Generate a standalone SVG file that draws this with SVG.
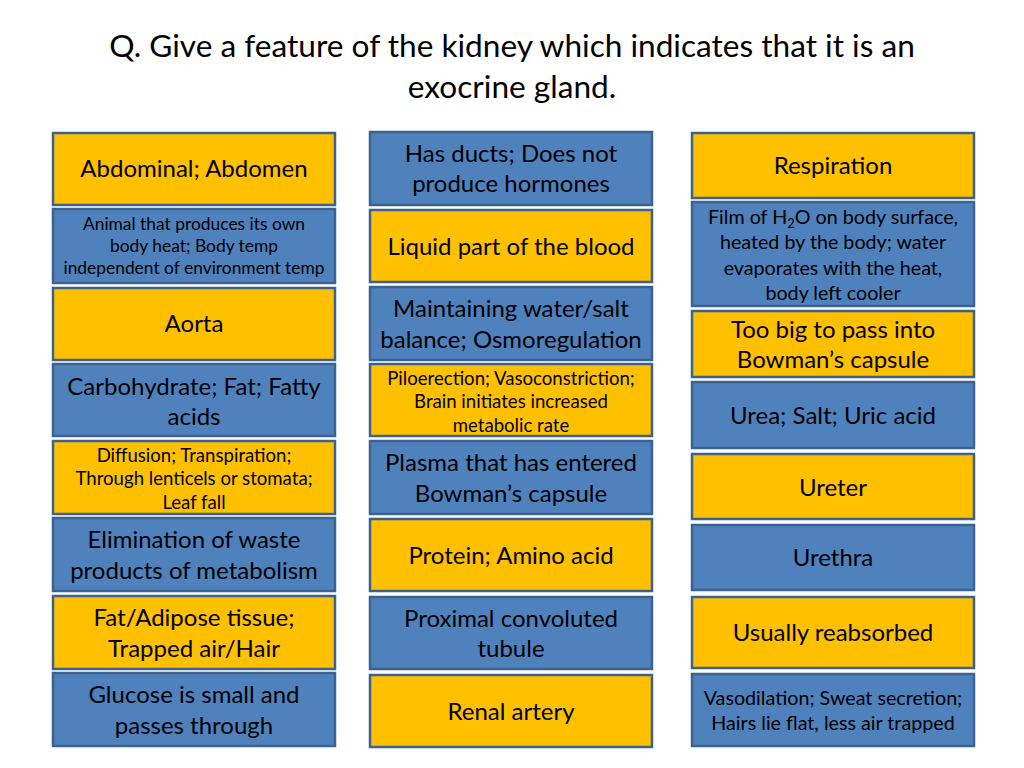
<svg xmlns="http://www.w3.org/2000/svg" width="1024" height="768" viewBox="0 0 1024 768">
<style>
text{font-family:Lato,"Open Sans","Liberation Sans",sans-serif;fill:#000;text-anchor:middle}
.t{font-size:31.6px}
.L{font-size:24px}
.S{font-size:17.4px}
.M{font-size:18.6px}
.X{font-size:19.7px}
.g{fill:#FFC000;stroke:#3C628F;stroke-width:2.5}
.b{fill:#4F81BD;stroke:#3C628F;stroke-width:2.5}
</style>
<rect width="1024" height="768" fill="#fff"/>
<g id="title">
<text class="t" x="512" y="57">Q. Give a feature of the kidney which indicates that it is an</text>
<text class="t" x="512" y="98">exocrine gland.</text>
</g>
<g id="connectors"/>
<!-- column 1 -->
<g id="n1"><rect class="g" x="53" y="133" width="282" height="72"/><text class="L" x="194" y="177">Abdominal; Abdomen</text></g>
<g id="n2"><rect class="b" x="53" y="209" width="282" height="74"/><text class="S" x="194" y="230">Animal that produces its own</text><text class="S" x="194" y="252">body heat; Body temp</text><text class="S" x="194" y="274">independent of environment temp</text></g>
<g id="n3"><rect class="g" x="53" y="288" width="282" height="72"/><text class="L" x="194" y="332">Aorta</text></g>
<g id="n4"><rect class="b" x="53" y="364" width="282" height="72"/><text class="L" x="194" y="395">Carbohydrate; Fat; Fatty</text><text class="L" x="194" y="425">acids</text></g>
<g id="n5"><rect class="g" x="53" y="441" width="282" height="73"/><text class="M" x="194" y="461.5">Diffusion; Transpiration;</text><text class="M" x="194" y="484.5">Through lenticels or stomata;</text><text class="M" x="194" y="508.5">Leaf fall</text></g>
<g id="n6"><rect class="b" x="53" y="518" width="282" height="73"/><text class="L" x="194" y="548">Elimination of waste</text><text class="L" x="194" y="579">products of metabolism</text></g>
<g id="n7"><rect class="g" x="53" y="596" width="282" height="73"/><text class="L" x="194" y="626">Fat/Adipose tissue;</text><text class="L" x="194" y="657">Trapped air/Hair</text></g>
<g id="n8"><rect class="b" x="53" y="673" width="282" height="73"/><text class="L" x="194" y="703">Glucose is small and</text><text class="L" x="194" y="734">passes through</text></g>
<!-- column 2 -->
<g id="n9"><rect class="b" x="370" y="132" width="282" height="73"/><text class="L" x="511" y="162">Has ducts; Does not</text><text class="L" x="511" y="192">produce hormones</text></g>
<g id="n10"><rect class="g" x="370" y="210" width="282" height="72"/><text class="L" x="511" y="255">Liquid part of the blood</text></g>
<g id="n11"><rect class="b" x="370" y="287" width="282" height="73"/><text class="L" x="511" y="317">Maintaining water/salt</text><text class="L" x="511" y="348">balance; Osmoregulation</text></g>
<g id="n12"><rect class="g" x="370" y="364" width="282" height="72"/><text class="M" x="511" y="384.5">Piloerection; Vasoconstriction;</text><text class="M" x="511" y="407.5">Brain initiates increased</text><text class="M" x="511" y="431.5">metabolic rate</text></g>
<g id="n13"><rect class="b" x="370" y="441" width="282" height="73"/><text class="L" x="511" y="471">Plasma that has entered</text><text class="L" x="511" y="502">Bowman’s capsule</text></g>
<g id="n14"><rect class="g" x="370" y="519" width="282" height="72"/><text class="L" x="511" y="564">Protein; Amino acid</text></g>
<g id="n15"><rect class="b" x="370" y="597" width="282" height="72"/><text class="L" x="511" y="627">Proximal convoluted</text><text class="L" x="511" y="657">tubule</text></g>
<g id="n16"><rect class="g" x="370" y="675" width="282" height="72"/><text class="L" x="511" y="720">Renal artery</text></g>
<!-- column 3 -->
<g id="n17"><rect class="g" x="692" y="133" width="282" height="65"/><text class="L" x="833" y="174">Respiration</text></g>
<g id="n18"><rect class="b" x="692" y="202" width="282" height="104"/><text class="X" x="833" y="224">Film of H<tspan font-size="13" dy="4">2</tspan><tspan dy="-4">O on body surface,</tspan></text><text class="X" x="833" y="249">heated by the body; water</text><text class="X" x="833" y="275">evaporates with the heat,</text><text class="X" x="833" y="300">body left cooler</text></g>
<g id="n19"><rect class="g" x="692" y="311" width="282" height="66"/><text class="L" x="833" y="338">Too big to pass into</text><text class="L" x="833" y="368">Bowman’s capsule</text></g>
<g id="n20"><rect class="b" x="692" y="382" width="282" height="66"/><text class="L" x="833" y="424">Urea; Salt; Uric acid</text></g>
<g id="n21"><rect class="g" x="692" y="454" width="282" height="65"/><text class="L" x="833" y="496">Ureter</text></g>
<g id="n22"><rect class="b" x="692" y="525" width="282" height="65"/><text class="L" x="833" y="566">Urethra</text></g>
<g id="n23"><rect class="g" x="692" y="597" width="282" height="71"/><text class="L" x="833" y="641">Usually reabsorbed</text></g>
<g id="n24"><rect class="b" x="692" y="674" width="282" height="72"/><text class="X" x="833" y="705">Vasodilation; Sweat secretion;</text><text class="X" x="833" y="730">Hairs lie flat, less air trapped</text></g>
</svg>
